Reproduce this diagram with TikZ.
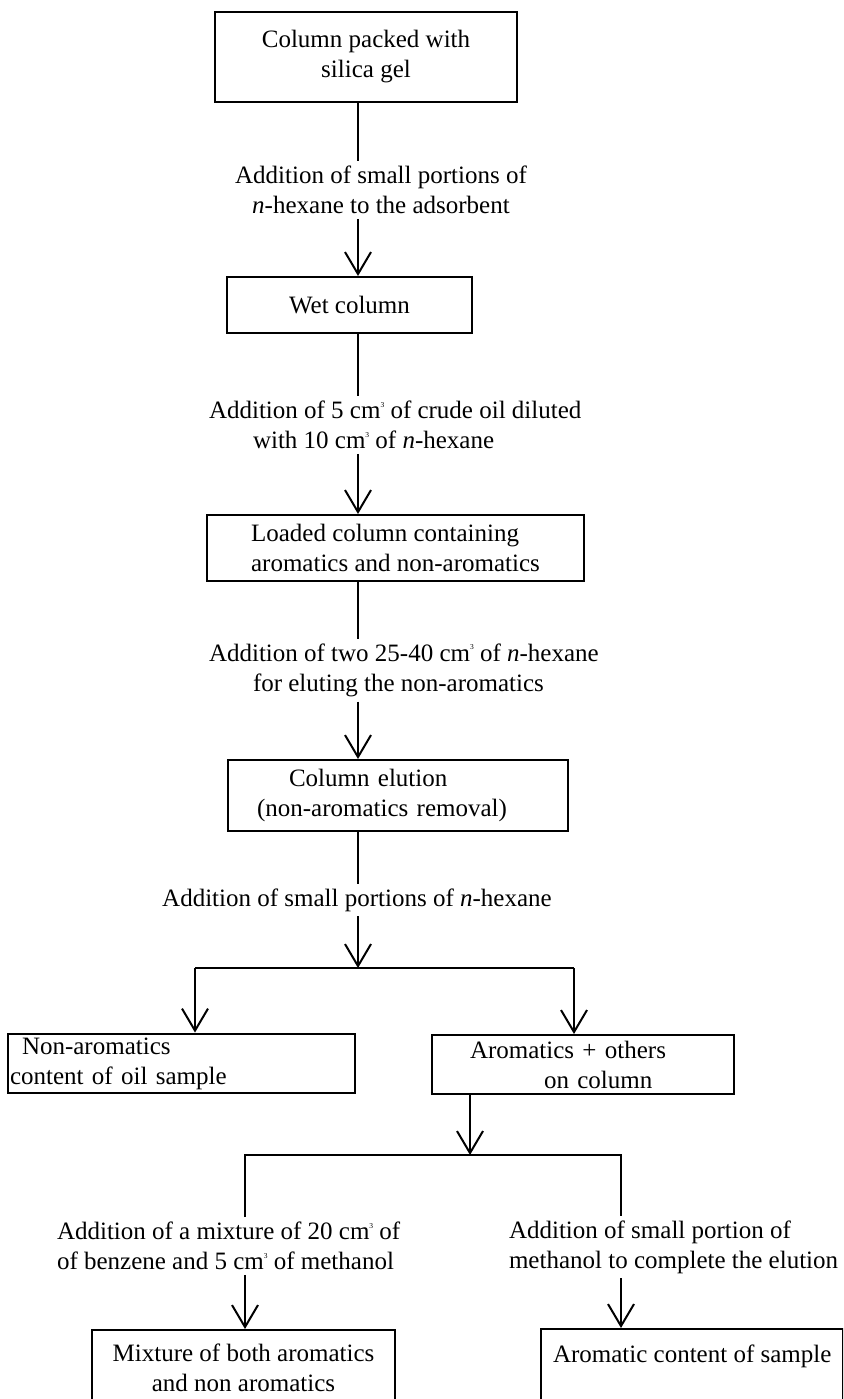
\documentclass[tikz,border=0pt]{standalone}
\usepackage{fontspec}
\setmainfont{Liberation Serif}
\usetikzlibrary{arrows.meta}
\newcommand{\cmcube}{cm\raisebox{11.5pt}{\fontsize{7.5}{7.5}\selectfont 3}}

\begin{document}
\begin{tikzpicture}[x=1pt,y=-1pt,font=\fontsize{25}{30}\selectfont,line width=2pt,
  box/.style={draw,inner xsep=6pt,inner ysep=4pt,align=center},
  note/.style={inner sep=4pt,align=center},
  flow/.style={-{Straight Barb[length=22pt,width=26pt]}}]
\useasboundingbox (0,0) rectangle (843,1399);
\clip (0,0) rectangle (843,1399);
\coordinate (spine) at (358,0);
\node[box,minimum width=302,minimum height=90] (packed) at (366,57) {Column packed with\\silica gel};
\node[note] (add1) at (381,190) {Addition of small portions of\\\textit{n}-hexane to the adsorbent};
\node[box,minimum width=245,minimum height=56] (wet) at (349.5,305) {Wet column};
\node[note,anchor=west,align=left] (add2) at (204,425) {Addition of 5 \cmcube{} of crude oil diluted\\\hspace*{44pt}with 10 \cmcube{} of \textit{n}-hexane};
\node[box,align=left,minimum width=377,minimum height=66] (loaded) at (395.5,548) {Loaded column containing\\aromatics and non-aromatics};
\node[note,anchor=west,align=left] (add3) at (204,670) {Addition of two 25-40 \cmcube{} of \textit{n}-hexane\\\hspace*{44pt}for eluting the non-aromatics};
\node[box,text width=328,align=left,minimum height=71] (elution) at (398,795.5) {\hspace*{55pt}Column elution\\\hspace*{23pt}(non-aromatics removal)};
\node[note] (add4) at (357,900) {Addition of small portions of \textit{n}-hexane};
\node[box,text width=343,inner xsep=2pt,align=left,minimum height=57] (nonaro) at (181.5,1063.5) {\hspace*{12pt}Non-aromatics\\content of oil sample};
\node[box,text width=290,align=left,minimum height=59] (others) at (583,1064.5) {\hspace*{32pt}Aromatics + others\\\hspace*{106pt}on column};
\node[note,anchor=west,align=left] (add5) at (52,1246) {Addition of a mixture of 20 \cmcube{} of\\of benzene and 5 \cmcube{} of methanol};
\node[note,anchor=west,align=left] (add6) at (504,1247) {Addition of small portion of\\methanol to complete the elution};
\node[box,minimum width=303,minimum height=75] (mixture) at (243.5,1367.5) {Mixture of both aromatics\\and non aromatics};
\node[box,anchor=north west,inner xsep=12pt,inner ysep=16pt,text height=17pt,text depth=60pt] (aromc) at (540,1328) {Aromatic content of sample};
\draw (packed.south -| spine) -- (add1.north -| spine);
\draw[flow] (add1.south -| spine) -- (wet.north -| spine);
\draw (wet.south -| spine) -- (add2.north -| spine);
\draw[flow] (add2.south -| spine) -- (loaded.north -| spine);
\draw (loaded.south -| spine) -- (add3.north -| spine);
\draw[flow] (add3.south -| spine) -- (elution.north -| spine);
\draw (elution.south -| spine) -- (add4.north -| spine);
\coordinate (fork) at (358,968);
\coordinate (forkl) at (195,968);
\coordinate (forkr) at (574,968);
\draw[flow] (add4.south -| spine) -- (fork);
\draw (forkl) -- (forkr);
\draw[flow] (forkl) -- (forkl |- nonaro.north);
\draw[flow] (forkr) -- (forkr |- others.north);
\coordinate (split) at (470,1155);
\coordinate (splitl) at (245,1155);
\coordinate (splitr) at (621,1155);
\draw[flow] (others.south -| split) -- (split);
\draw (splitl |- add5.north) -- (splitl) -- (splitr) -- (splitr |- add6.north);
\draw[flow] (add5.south -| splitl) -- (splitl |- mixture.north);
\draw[flow] (add6.south -| splitr) -- (splitr |- aromc.north);
\end{tikzpicture}
\end{document}
